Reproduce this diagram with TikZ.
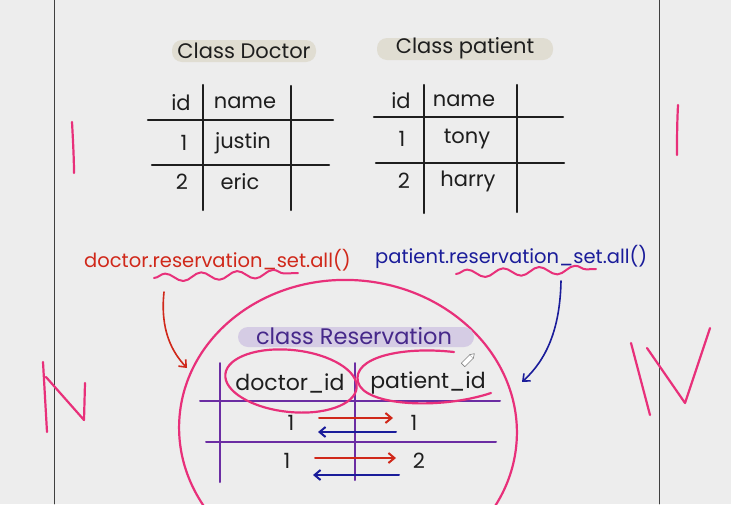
\documentclass[tikz,border=0pt]{standalone}
\usepackage{fontspec}
\setmainfont{Poppins}
\usetikzlibrary{arrows.meta,decorations.pathmorphing}
\definecolor{paper}{HTML}{EDEDED}
\definecolor{pill}{HTML}{E0DDD2}
\definecolor{lav}{HTML}{D5CCE4}
\definecolor{ink}{HTML}{1E1E1E}
\definecolor{hred}{HTML}{D0281A}
\definecolor{hblue}{HTML}{1A1C9A}
\definecolor{hpink}{HTML}{E8307A}
\definecolor{hpurple}{HTML}{6B2DA3}
\definecolor{ptext}{HTML}{46288A}

\begin{document}
\begin{tikzpicture}[x=1pt,y=-1pt,line cap=round,line join=round,
  >={Straight Barb[length=6pt,width=10pt]},
  tab/.style={ink,line width=2.4pt},
  rtab/.style={hpurple,line width=2pt},
  hand/.style={text=ink,font=\fontsize{21}{24}\selectfont,inner sep=0pt},
  cell/.style={text=ink,font=\fontsize{21}{24}\selectfont,inner sep=0pt},
  call/.style={font=\fontsize{19.5}{22}\selectfont,inner sep=0pt,anchor=west},
  marker/.style={hpink,line width=2.2pt},
  wave/.style={hpink,line width=2pt,decorate,
    decoration={snake,amplitude=4pt,segment length=36pt}}]
\fill[paper] (0,0) rectangle (731,504);
\useasboundingbox (0,0) rectangle (731,504);
\draw[black!75,line width=0.8pt] (54,0) -- (54,504);
\draw[black!75,line width=0.8pt] (659,0) -- (659,504);

% the two model classes
\fill[pill,rounded corners=10pt] (172,40) rectangle (316,62);
\node[hand] (docTitle) at (244,51) {Class Doctor};
\fill[pill,rounded corners=10pt] (377,38) rectangle (553,60);
\node[hand] (patTitle) at (465,48) {Class patient};

\draw[tab] (203,85) -- (203,210);
\draw[tab] (291,86) -- (291,210);
\draw[tab] (148,120) -- (333,120);
\draw[tab] (152,165) -- (329,165);
\node[cell] (docId) at (181,103) {id};
\node[cell] (docName) at (245,103) {name};
\node[cell] (docOne) at (184,143) {1};
\node[cell] (docJustin) at (243,143) {justin};
\node[cell] (docTwo) at (182,182) {2};
\node[cell] (docEric) at (240,182) {eric};

\draw[tab] (424,85) -- (424,213);
\draw[tab] (517,85) -- (517,212);
\draw[tab] (374,117) -- (563,117);
\draw[tab] (376,163) -- (564,163);
\node[cell] (patId) at (401,101) {id};
\node[cell] (patName) at (464,101) {name};
\node[cell] (patOne) at (402,139) {1};
\node[cell] (patTony) at (467,139) {tony};
\node[cell] (patTwo) at (404,181) {2};
\node[cell] (patHarry) at (468,181) {harry};

% reverse lookups
\node[call,text=hred] (docSet) at (84,260) {doctor.reservation\_set.all()};
\node[call,text=hblue] (patSet) at (375,257) {patient.reservation\_set.all()};
\draw[wave] (154,278) -- (298,273);
\draw[wave] (456,274) -- (596,269);
\draw[hred,line width=1.6pt,->] (164,292) .. controls (160,330) and (172,352) .. (187,368);
\draw[hblue,line width=1.6pt,->] (561,281) .. controls (560,330) and (546,360) .. (522,382);

% join table
\draw[marker,rotate around={-4:(348,430)}] (348,430) ellipse [x radius=169pt,y radius=150pt];
\fill[lav,rounded corners=10pt] (238,327) rectangle (474,347);
\node[text=ptext,font=\fontsize{22.5}{26}\selectfont,inner sep=0pt] (resTitle) at (354,336) {class Reservation};

\draw[rtab] (220,363) -- (220,482);
\draw[rtab] (355,363) -- (355,480);
\draw[rtab] (200,401) -- (500,401);
\draw[rtab] (206,442) -- (496,442);
\node[cell,font=\fontsize{22}{25}\selectfont] (resDoc) at (290,383) {doctor\_id};
\node[cell,font=\fontsize{22}{25}\selectfont] (resPat) at (428,383) {patient\_id};
\node[cell] (resDocA) at (291,423) {1};
\node[cell] (resPatA) at (414,423) {1};
\node[cell] (resDocB) at (287,461) {1};
\node[cell] (resPatB) at (419,461) {2};

\draw[hred,line width=2pt,->] (319,418) -- (393,418);
\draw[hblue,line width=2pt,->] (396,432) -- (318,432);
\draw[hred,line width=2pt,->] (315,458) -- (396,458);
\draw[hblue,line width=2pt,->] (399,475) -- (313,475);

\draw[marker,rotate around={-6:(291,381)}] (291,381) ellipse [x radius=66pt,y radius=31pt];
\draw[marker] (454,352) .. controls (400,346) and (352,358) .. (358,382)
  .. controls (364,406) and (440,410) .. (491,393);

% pencil cursor
\begin{scope}[shift={(468,360)},rotate=45]
\draw[gray,line width=0.6pt,fill=white] (-7,-2.5) rectangle (5,2.5);
\draw[gray,line width=0.6pt,fill=white] (5,-2.5) -- (9,0) -- (5,2.5);
\end{scope}

% margin marks
\draw[marker] (72,122) .. controls (73,140) and (74,160) .. (74,173);
\draw[marker] (678,105) .. controls (677,125) and (677,140) .. (677,155);
\draw[marker] (43,362) -- (47,432);
\draw[marker] (46,377) -- (84,420) -- (85,383);
\draw[marker] (631,343) -- (650,415);
\draw[marker] (647,348) -- (685,403) -- (710,328);
\end{tikzpicture}
\end{document}
